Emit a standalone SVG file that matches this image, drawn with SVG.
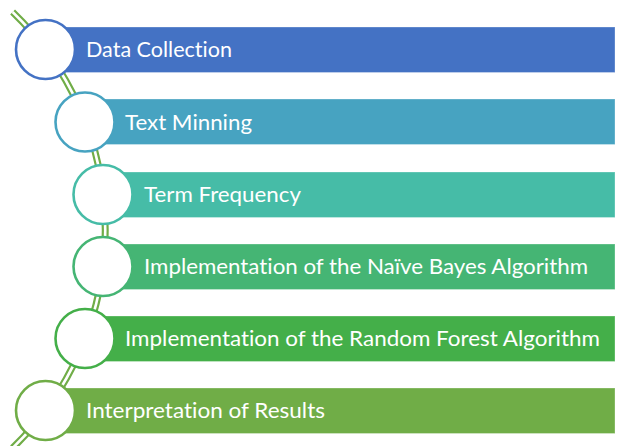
<svg xmlns="http://www.w3.org/2000/svg" width="619" height="446" viewBox="0 0 619 446">
<style>
.bar{stroke:#ffffff;stroke-opacity:0.3;stroke-width:1}
.ring{fill:#ffffff;stroke-width:2.6}
.lbl{font-family:Lato,"Open Sans","DejaVu Sans",sans-serif;font-size:21px;fill:#ffffff;font-variant-ligatures:none;font-feature-settings:"liga" 0,"clig" 0}
</style>
<rect width="619" height="446" fill="#ffffff"/>
<g id="connectors">
<path d="M 12.6 12 A 302.8 302.8 0 0 1 12.6 448" fill="none" stroke="#70AD47" stroke-width="7"/>
<path d="M 12.6 12 A 302.8 302.8 0 0 1 12.6 448" fill="none" stroke="#ffffff" stroke-width="2.6"/>
</g>
<g id="n1">
<rect class="bar" x="45.5" y="27" width="569.5" height="45.5" fill="#4472C4"/>
<circle class="ring" cx="45.5" cy="49.5" r="29.5" stroke="#4472C4"/>
<text class="lbl" x="86" y="57" textLength="146" lengthAdjust="spacingAndGlyphs">Data Collection</text>
</g>
<g id="n2">
<rect class="bar" x="85" y="99" width="530" height="45.5" fill="#47A3C1"/>
<circle class="ring" cx="85" cy="122" r="29.5" stroke="#47A3C1"/>
<text class="lbl" x="125" y="129.5" textLength="127" lengthAdjust="spacingAndGlyphs">Text Minning</text>
</g>
<g id="n3">
<rect class="bar" x="103" y="172" width="512" height="45.5" fill="#46BCA7"/>
<circle class="ring" cx="103" cy="194.5" r="29.5" stroke="#46BCA7"/>
<text class="lbl" x="144" y="202" textLength="157" lengthAdjust="spacingAndGlyphs">Term Frequency</text>
</g>
<g id="n4">
<rect class="bar" x="103" y="244" width="512" height="45.5" fill="#45B574"/>
<circle class="ring" cx="103" cy="266.5" r="29.5" stroke="#45B574"/>
<text class="lbl" x="144" y="274" textLength="444" lengthAdjust="spacingAndGlyphs">Implementation of the Naïve Bayes Algorithm</text>
</g>
<g id="n5">
<rect class="bar" x="85" y="316" width="530" height="45.5" fill="#44AF49"/>
<circle class="ring" cx="85" cy="338.5" r="29.5" stroke="#44AF49"/>
<text class="lbl" x="125" y="346" textLength="475" lengthAdjust="spacingAndGlyphs">Implementation of the Random Forest Algorithm</text>
</g>
<g id="n6">
<rect class="bar" x="45.5" y="388" width="569.5" height="45.5" fill="#70AD47"/>
<circle class="ring" cx="45.5" cy="410.5" r="29.5" stroke="#70AD47"/>
<text class="lbl" x="86" y="418" textLength="239" lengthAdjust="spacingAndGlyphs">Interpretation of Results</text>
</g>
</svg>
